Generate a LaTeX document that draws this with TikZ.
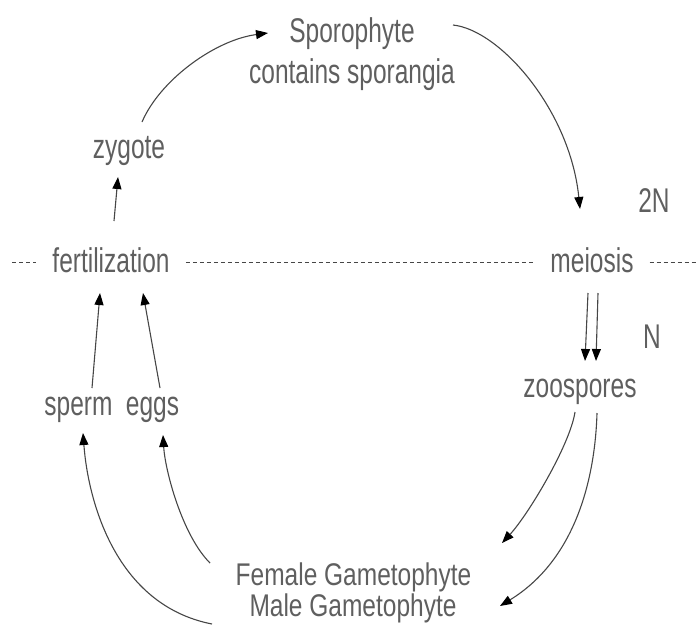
\documentclass[tikz,border=0pt]{standalone}
\usepackage{fontspec}
\setmainfont{Liberation Sans}
\usepackage{graphicx}
\usetikzlibrary{arrows.meta}
\definecolor{textgray}{RGB}{95,95,95}
\definecolor{linegray}{RGB}{70,70,70}
\newcommand\tx[1]{\scalebox{1}[1.4]{#1}}
\newcommand\txs[1]{\scalebox{1}[1.28]{#1}}
\tikzset{
  txt/.style={anchor=base, inner sep=1pt, text=textgray, font=\fontsize{24.5}{28}\selectfont},
  lowtxt/.style={txt, inner sep=0pt},
  cutbox/.style={txt, fill=white, inner xsep=16pt},
  arr/.style={draw=linegray, line width=1.1pt, -{Triangle[length=12pt,width=9pt,color=black]}},
  dashline/.style={draw=linegray, line width=1pt, dash pattern=on 4pt off 3pt}
}
\begin{document}
\begin{tikzpicture}[x=1pt,y=-1pt]
\useasboundingbox (0,0) rectangle (698,638);
% nodes
\node[txt] (spo) at (352,42) {\tx{Sporophyte}};
\node[txt] (spo2) at (352,83) {\tx{contains sporangia}};
\node[txt] (zyg) at (129,158) {\tx{zygote}};
\node[cutbox] (fert) at (111,272) {\tx{fertilization}};
\node[cutbox] (mei) at (592,272) {\tx{meiosis}};
\node[txt] (n2) at (654,212) {\tx{2N}};
\node[txt] (n1) at (652,348) {\tx{N}};
\node[txt] (zoo) at (580,397) {\tx{zoospores}};
\node[txt] (sperm) at (78.5,415) {\tx{sperm}};
\node[txt] (eggs) at (152.5,415) {\tx{eggs}};
\node[lowtxt] (fem) at (353.5,585) {\txs{Female Gametophyte}};
\node[lowtxt] (male) at (353,616) {\txs{Male Gametophyte}};
% dashed line
\coordinate (L) at (12,262);
\coordinate (R) at (698,262);
\draw[dashline] (L) -- (fert.west |- L);
\draw[dashline] (fert.east |- L) -- (mei.west |- L);
\draw[dashline] (mei.east |- L) -- (R);
% arrows
\draw[arr] ([shift={(13,-36)}]zyg.base) .. controls (160,80) and (215,40) .. ([shift={(-84,-9)}]spo.base);
\draw[arr] ([shift={(101,-17)}]spo.base) .. controls (500,30) and (570,110) .. ([shift={(-12,-63)}]mei.base);
\draw[arr] ([shift={(3,-51)}]fert.base) -- ([shift={(-11,19)}]zyg.base);
\draw[arr] ([shift={(13.5,-27)}]sperm.base) -- ([shift={(-11,21)}]fert.base);
\draw[arr] ([shift={(7.5,-27)}]eggs.base) -- ([shift={(32,21)}]fert.base);
\draw[arr] ([shift={(-4,21)}]mei.base) -- ([shift={(5,-36)}]zoo.base);
\draw[arr] ([shift={(6,21)}]mei.base) -- ([shift={(16,-36)}]zoo.base);
\draw[arr] ([shift={(-5,15)}]zoo.base) .. controls (570,445) and (528,515) .. ([shift={(148.5,-42)}]fem.base);
\draw[arr] ([shift={(17,16)}]zoo.base) .. controls (595,480) and (575,560) .. ([shift={(147,-10)}]male.base);
\draw[arr] ([shift={(-143.5,-22)}]fem.base) .. controls (182,535) and (165,470) .. ([shift={(10.5,20)}]eggs.base);
\draw[arr] ([shift={(-141,8)}]male.base) .. controls (115,605) and (88,500) .. ([shift={(4.5,18)}]sperm.base);
\end{tikzpicture}
\end{document}
